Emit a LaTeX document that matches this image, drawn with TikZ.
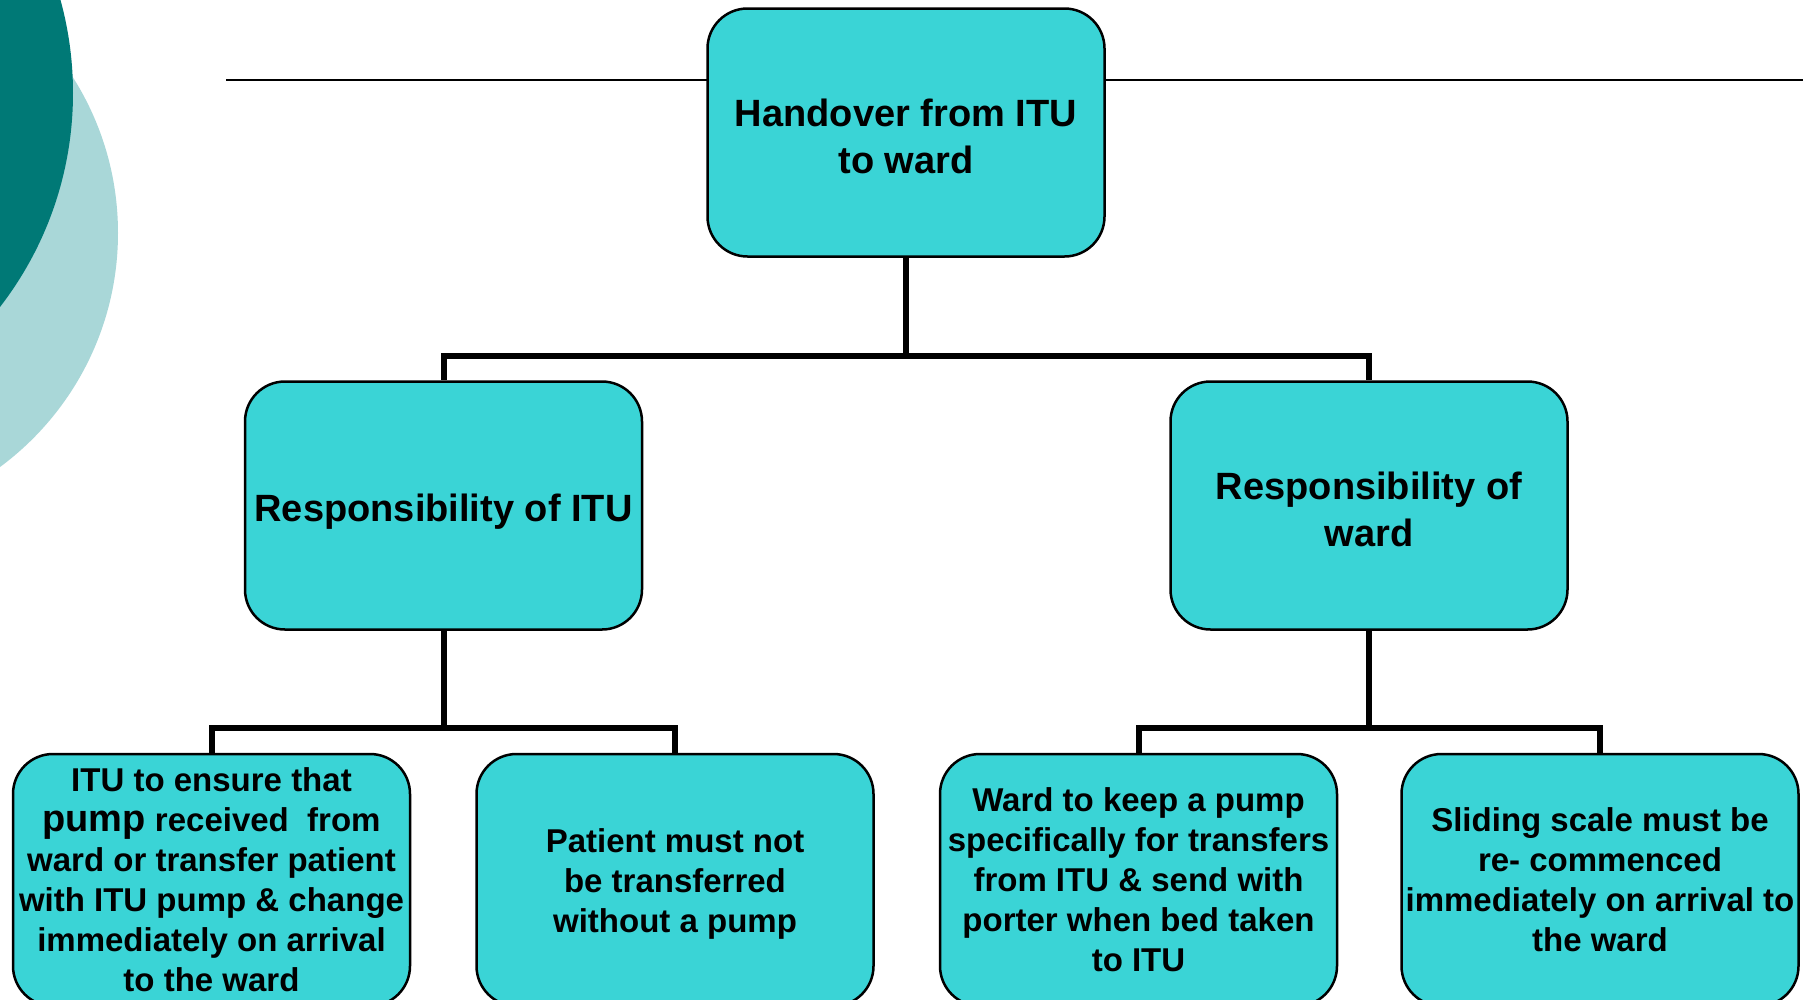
\documentclass[tikz,border=0pt]{standalone}
\usepackage{fontspec}
\setmainfont{Liberation Sans}
\definecolor{boxfill}{RGB}{58,212,214}
\definecolor{darkteal}{RGB}{0,121,118}
\definecolor{lightteal}{RGB}{169,215,216}
\begin{document}
\begin{tikzpicture}[x=1pt,y=-1pt,
  box/.style={draw=black, line width=2.5pt, fill=boxfill, rounded corners=40pt,
    minimum width=397pt, minimum height=248pt, inner sep=0pt},
  leaf/.style={box, minimum height=252pt},
  bigtxt/.style={inner sep=0pt, align=center, font=\bfseries\fontsize{38}{47}\selectfont},
  smalltxt/.style={inner sep=0pt, align=center, font=\bfseries\fontsize{33}{40}\selectfont},
  conn/.style={line width=6pt}]
\useasboundingbox (0,0) rectangle (1803,999);
\clip (0,0) rectangle (1803,999);
\fill[white] (0,0) rectangle (1803,999);
\fill[lightteal] (-173,233) circle (291pt);
\fill[darkteal] (-277,93) circle (350pt);
\draw[line width=2.5pt] (226,80) -- (1803,80);

\node[box] (top) at (906,132.5) {};
\node[box] (midL) at (443.5,505.5) {};
\node[box] (midR) at (1369,505.5) {};
\node[leaf] (l1) at (211.5,880) {};
\node[leaf] (l2) at (675,880) {};
\node[leaf] (l3) at (1138.5,880) {};
\node[leaf] (l4) at (1600,880) {};

\node[bigtxt] (topt) at ([yshift=-4pt]top.center) {Handover from ITU\\to ward};
\node[bigtxt] (midLt) at ([yshift=-6pt]midL.center) {Responsibility of ITU};
\node[bigtxt] (midRt) at ([yshift=-3.5pt]midR.center) {Responsibility of\\ward};
\node[smalltxt] (l1t) at (l1.center) {ITU to ensure that\\{\fontsize{38}{40}\selectfont pump} received\ \ from\\ward or transfer patient\\with ITU pump \& change\\immediately on arrival\\to the ward};
\node[smalltxt] (l2t) at ([yshift=-4pt]l2.center) {Patient must not\\be transferred\\without a pump};
\node[smalltxt] (l3t) at (l3.center) {Ward to keep a pump\\specifically for transfers\\from ITU \& send with\\porter when bed taken\\to ITU};
\node[smalltxt] (l4t) at (l4.center) {Sliding scale must be\\re- commenced\\immediately on arrival to\\the ward};

\coordinate (bus1) at (0,355.5);
\coordinate (bus2) at (0,727.5);
\draw[conn] (top.south) -- (top.south |- bus1) -| (midL.north);
\draw[conn] (top.south) -- (top.south |- bus1) -| (midR.north);
\draw[conn] (midL.south) -- (midL.south |- bus2) -| (l1.north);
\draw[conn] (midL.south) -- (midL.south |- bus2) -| (l2.north);
\draw[conn] (midR.south) -- (midR.south |- bus2) -| (l3.north);
\draw[conn] (midR.south) -- (midR.south |- bus2) -| (l4.north);
\end{tikzpicture}
\end{document}
